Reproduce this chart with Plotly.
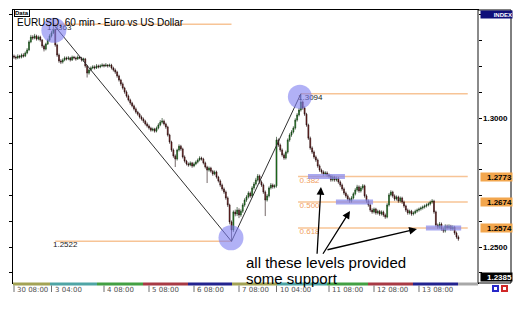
import plotly.graph_objects as go

# ---------------- data ----------------
title_text = "EURUSD, 60 min - Euro vs US Dollar"
first_open = 1.3240
closes = [
 1.3236,1.3233,1.3240,1.3236,1.3244,1.3240,1.3252,1.3264,1.3295,1.3314,
 1.3310,1.3318,1.3306,1.3314,1.3302,1.3279,1.3267,1.3287,1.3302,1.3318,
 1.3330,1.3341,1.3283,1.3244,1.3221,1.3217,1.3225,1.3233,1.3229,1.3233,
 1.3225,1.3236,1.3233,1.3229,1.3236,1.3233,1.3225,1.3229,1.3202,1.3174,
 1.3186,1.3194,1.3198,1.3194,1.3202,1.3198,1.3202,1.3205,1.3202,1.3205,
 1.3202,1.3205,1.3194,1.3186,1.3178,1.3163,1.3147,1.3132,1.3116,1.3101,
 1.3085,1.3070,1.3058,1.3047,1.3035,1.3023,1.3015,1.3004,1.2996,1.2988,
 1.2977,1.2969,1.2961,1.2953,1.2957,1.2949,1.2961,1.2973,1.2984,1.2988,
 1.2977,1.2965,1.2934,1.2907,1.2876,1.2853,1.2841,1.2876,1.2891,1.2880,
 1.2849,1.2833,1.2822,1.2818,1.2826,1.2814,1.2822,1.2829,1.2837,1.2845,
 1.2841,1.2826,1.2810,1.2798,1.2806,1.2794,1.2783,1.2791,1.2771,1.2756,
 1.2740,1.2725,1.2713,1.2690,1.2663,1.2597,1.2566,1.2636,1.2628,1.2643,
 1.2624,1.2639,1.2663,1.2682,1.2694,1.2709,1.2698,1.2729,1.2744,1.2760,
 1.2775,1.2752,1.2740,1.2713,1.2682,1.2698,1.2729,1.2740,1.2733,1.2737,
 1.2915,1.2895,1.2876,1.2857,1.2845,1.2868,1.2915,1.2934,1.2946,1.2961,
 1.2992,1.3012,1.3031,1.3062,1.3039,1.3015,1.2973,1.2922,1.2884,1.2868,
 1.2849,1.2837,1.2814,1.2798,1.2791,1.2783,1.2787,1.2779,1.2775,1.2760,
 1.2771,1.2760,1.2767,1.2752,1.2740,1.2725,1.2709,1.2698,1.2686,1.2678,
 1.2690,1.2706,1.2721,1.2733,1.2717,1.2729,1.2737,1.2698,1.2678,1.2663,
 1.2643,1.2636,1.2647,1.2632,1.2639,1.2628,1.2636,1.2624,1.2616,1.2663,
 1.2702,1.2713,1.2698,1.2686,1.2694,1.2678,1.2690,1.2674,1.2659,1.2643,
 1.2632,1.2639,1.2628,1.2632,1.2639,1.2643,1.2647,1.2651,1.2655,1.2659,
 1.2663,1.2667,1.2674,1.2678,1.2636,1.2585,1.2577,1.2589,1.2570,1.2562,
 1.2581,1.2574,1.2581,1.2570,1.2577,1.2554,1.2539,1.2531]
highs = [
 1.3246,1.3242,1.3247,1.3245,1.3250,1.3251,1.3258,1.3271,1.3301,1.3322,
 1.3321,1.3326,1.3323,1.3320,1.3319,1.3306,1.3284,1.3292,1.3308,1.3325,
 1.3338,1.3363,1.3346,1.3288,1.3250,1.3228,1.3231,1.3239,1.3238,1.3240,
 1.3237,1.3242,1.3241,1.3238,1.3243,1.3240,1.3237,1.3234,1.3233,1.3206,
 1.3192,1.3200,1.3205,1.3204,1.3209,1.3207,1.3208,1.3212,1.3210,1.3213,
 1.3209,1.3211,1.3210,1.3199,1.3192,1.3183,1.3168,1.3152,1.3138,1.3121,
 1.3107,1.3091,1.3075,1.3063,1.3052,1.3041,1.3028,1.3020,1.3010,1.3002,
 1.2993,1.2983,1.2975,1.2966,1.2963,1.2962,1.2967,1.2980,1.2992,1.3000,
 1.2994,1.2982,1.2970,1.2939,1.2912,1.2882,1.2859,1.2881,1.2898,1.2896,
 1.2885,1.2855,1.2838,1.2828,1.2832,1.2830,1.2828,1.2835,1.2843,1.2852,
 1.2850,1.2846,1.2831,1.2815,1.2812,1.2811,1.2799,1.2797,1.2796,1.2776,
 1.2762,1.2746,1.2731,1.2719,1.2696,1.2668,1.2603,1.2642,1.2645,1.2655,
 1.2650,1.2646,1.2670,1.2689,1.2701,1.2716,1.2715,1.2736,1.2752,1.2768,
 1.2783,1.2781,1.2758,1.2746,1.2719,1.2705,1.2735,1.2748,1.2746,1.2743,
 1.2927,1.2921,1.2901,1.2882,1.2863,1.2874,1.2921,1.2941,1.2953,1.2968,
 1.2999,1.3019,1.3039,1.3094,1.3068,1.3045,1.3020,1.2978,1.2928,1.2890,
 1.2874,1.2855,1.2843,1.2820,1.2804,1.2797,1.2794,1.2793,1.2785,1.2781,
 1.2778,1.2776,1.2773,1.2772,1.2758,1.2746,1.2731,1.2715,1.2704,1.2692,
 1.2697,1.2712,1.2728,1.2741,1.2739,1.2736,1.2744,1.2742,1.2704,1.2684,
 1.2669,1.2650,1.2653,1.2652,1.2645,1.2644,1.2642,1.2641,1.2630,1.2670,
 1.2709,1.2720,1.2718,1.2704,1.2700,1.2699,1.2696,1.2695,1.2680,1.2664,
 1.2649,1.2645,1.2644,1.2638,1.2645,1.2649,1.2653,1.2657,1.2661,1.2665,
 1.2669,1.2673,1.2680,1.2686,1.2683,1.2641,1.2591,1.2597,1.2595,1.2576,
 1.2588,1.2587,1.2588,1.2586,1.2584,1.2582,1.2560,1.2545]
lows = [
 1.3229,1.3226,1.3228,1.3230,1.3231,1.3234,1.3236,1.3247,1.3259,1.3290,
 1.3303,1.3305,1.3300,1.3301,1.3296,1.3272,1.3258,1.3262,1.3283,1.3297,
 1.3312,1.3325,1.3276,1.3237,1.3214,1.3209,1.3211,1.3220,1.3223,1.3224,
 1.3219,1.3221,1.3227,1.3222,1.3225,1.3228,1.3219,1.3218,1.3195,1.3157,
 1.3168,1.3181,1.3189,1.3188,1.3190,1.3192,1.3193,1.3197,1.3196,1.3198,
 1.3195,1.3197,1.3188,1.3180,1.3171,1.3156,1.3141,1.3125,1.3110,1.3094,
 1.3079,1.3064,1.3051,1.3041,1.3029,1.3017,1.3009,1.2998,1.2990,1.2981,
 1.2971,1.2963,1.2955,1.2947,1.2948,1.2943,1.2944,1.2956,1.2968,1.2978,
 1.2971,1.2958,1.2928,1.2900,1.2869,1.2846,1.2810,1.2835,1.2870,1.2873,
 1.2843,1.2827,1.2816,1.2811,1.2813,1.2807,1.2809,1.2817,1.2824,1.2832,
 1.2835,1.2820,1.2804,1.2748,1.2792,1.2788,1.2776,1.2778,1.2765,1.2750,
 1.2733,1.2718,1.2706,1.2683,1.2655,1.2588,1.2522,1.2558,1.2619,1.2620,
 1.2612,1.2617,1.2632,1.2656,1.2675,1.2688,1.2691,1.2692,1.2722,1.2738,
 1.2754,1.2745,1.2733,1.2706,1.2620,1.2676,1.2692,1.2723,1.2726,1.2727,
 1.2730,1.2888,1.2869,1.2850,1.2838,1.2839,1.2862,1.2908,1.2927,1.2940,
 1.2955,1.2986,1.3006,1.3025,1.3032,1.3008,1.2966,1.2915,1.2877,1.2861,
 1.2842,1.2830,1.2807,1.2791,1.2784,1.2776,1.2777,1.2772,1.2768,1.2753,
 1.2754,1.2753,1.2754,1.2745,1.2733,1.2718,1.2702,1.2691,1.2679,1.2671,
 1.2672,1.2684,1.2700,1.2715,1.2710,1.2711,1.2722,1.2691,1.2671,1.2656,
 1.2636,1.2629,1.2630,1.2625,1.2626,1.2621,1.2622,1.2617,1.2609,1.2611,
 1.2657,1.2696,1.2691,1.2679,1.2680,1.2671,1.2672,1.2667,1.2652,1.2636,
 1.2625,1.2626,1.2621,1.2622,1.2627,1.2633,1.2637,1.2641,1.2645,1.2649,
 1.2653,1.2657,1.2661,1.2668,1.2629,1.2578,1.2570,1.2571,1.2563,1.2555,
 1.2556,1.2567,1.2568,1.2563,1.2564,1.2547,1.2532,1.2524]

time_tick_bars = [0, 20, 48, 72, 96, 120, 140, 168, 192, 216]
time_tick_text = ["30 08:00", "3 04:00", "4 08:00", "5 08:00", "6 08:00",
                  "7 08:00", "10 04:00", "11 08:00", "12 08:00", "13 08:00"]

swing_high = 1.3363
swing_low = 1.2522
swing_high2 = 1.3094
swing_high_bar, swing_low_bar, swing_high2_bar = 21, 116, 153
fib_ratios = ["0.382", "0.500", "0.618"]
fib_levels = [1.2773, 1.2674, 1.2574]
scale_labels = [1.3000, 1.2500]
bid_price = 1.2385
note_lines = ["all these levels provided", "some support"]

assert len(closes) == len(highs) == len(lows)
bars = list(range(len(closes)))
opens = [first_open] + closes[:-1]

# ---------------- layout helpers (pixels -> paper) ----------------
W, H = 527, 312
def px(x): return x / W
def py(y): return 1 - y / H

X0, X1, Y0, Y1 = 13, 478, 10, 283
x_range = [-0.533, 247.47]
y_range = [1.23605, 1.34186]

FONT = "Liberation Sans, Arial, sans-serif"
SMALL = "DejaVu Sans, Verdana, sans-serif"
ORANGE_LINE = "rgb(247,196,150)"
ORANGE_TXT = "rgb(240,160,96)"
BLUE_FILL = "rgba(125,125,240,0.6)"

fig = go.Figure()
fig.add_trace(go.Candlestick(
    x=bars, open=opens, high=highs, low=lows, close=closes,
    increasing=dict(line=dict(color="#0a2a0a", width=0.6), fillcolor="#1fa51f"),
    decreasing=dict(line=dict(color="#1a0505", width=0.6), fillcolor="#901818"),
    whiskerwidth=0, hoverinfo="skip", showlegend=False))

# price text labels near the swings and the fib ratio labels (drawn below circles)
fig.add_trace(go.Scatter(
    x=[17.6, 20.8, 151.5], y=[swing_high, swing_low, swing_high2],
    text=[f"{swing_high:.4f}", f"{swing_low:.4f}", f"{swing_high2:.4f}"],
    mode="text", textposition="bottom right",
    textfont=dict(family=FONT, size=8, color="#202020"),
    hoverinfo="skip", showlegend=False))
fig.add_trace(go.Scatter(
    x=[152.3] * 3, y=fib_levels, text=fib_ratios,
    mode="text", textposition="bottom right",
    textfont=dict(family=FONT, size=8, color=ORANGE_TXT),
    hoverinfo="skip", showlegend=False))

shapes = []
# orange level lines
shapes.append(dict(type="line", xref="x", yref="y", x0=swing_high_bar, x1=swing_low_bar,
                   y0=swing_high, y1=swing_high, line=dict(color=ORANGE_LINE, width=1.5), layer="below"))
shapes.append(dict(type="line", xref="x", yref="y", x0=swing_high_bar + 1, x1=swing_low_bar,
                   y0=swing_low, y1=swing_low, line=dict(color=ORANGE_LINE, width=1.5), layer="below"))
shapes.append(dict(type="line", xref="x", yref="y", x0=swing_high2_bar, x1=242,
                   y0=swing_high2, y1=swing_high2, line=dict(color=ORANGE_LINE, width=1.5), layer="below"))
for lv in fib_levels:
    shapes.append(dict(type="line", xref="x", yref="y", x0=151.5, x1=242,
                       y0=lv, y1=lv, line=dict(color=ORANGE_LINE, width=1.5), layer="below"))

# trend lines
shapes.append(dict(type="line", xref="x", yref="y", x0=swing_high_bar, y0=swing_high,
                   x1=swing_low_bar, y1=swing_low, line=dict(color="#303030", width=1), layer="above"))
shapes.append(dict(type="line", xref="x", yref="y", x0=swing_low_bar, y0=swing_low,
                   x1=swing_high2_bar, y1=swing_high2, line=dict(color="#303030", width=1), layer="above"))

# circles
for bx, by, (a, b, c, d) in [(swing_high_bar, swing_high, (-12, 13, -18.5, 6.5)),
                             (swing_high2_bar, swing_high2, (-13, 11, -15, 9)),
                             (swing_low_bar, swing_low, (-13, 12, -9, 16))]:
    shapes.append(dict(type="circle", xref="x", yref="y", xsizemode="pixel", ysizemode="pixel",
                       xanchor=bx, yanchor=by, x0=a, x1=b, y0=c, y1=d,
                       fillcolor=BLUE_FILL, line=dict(width=0), layer="above"))

# lavender support highlights
for (b0, b1), lv in zip([(156.8, 176.5), (171.7, 191.5), (219.7, 238.5)], fib_levels):
    shapes.append(dict(type="rect", xref="x", yref="y", ysizemode="pixel", yanchor=lv,
                       x0=b0, x1=b1, y0=-2.5, y1=2.5,
                       fillcolor="rgba(140,140,235,0.75)", line=dict(width=0), layer="above"))

# colored time strip
strip = [(13, 50, "#a3a355"), (50, 97, "#4fa5a5"), (97, 143, "#43a043"), (143, 188, "#a83a45"),
         (188, 232, "#23238f"), (232, 277, "#a3a355"), (277, 327, "#4fa5a5"), (327, 368, "#43a043"),
         (368, 413, "#a83a45"), (413, 458, "#23238f"), (458, 478, "#a8a8a8")]
for a, b, c in strip:
    shapes.append(dict(type="rect", xref="paper", yref="paper", x0=px(a), x1=px(b),
                       y0=py(285.5), y1=py(282.5), fillcolor=c, line=dict(width=0), layer="above"))

# time tick marks
for tb in time_tick_bars:
    shapes.append(dict(type="line", xref="x", yref="paper", x0=tb, x1=tb,
                       y0=py(285.5), y1=py(292), line=dict(color="#707070", width=1)))

# right price panel
shapes.append(dict(type="line", xref="paper", yref="paper", x0=px(478), x1=px(478),
                   y0=py(Y0), y1=py(Y1), line=dict(color="#8a8a8a", width=2), layer="above"))
shapes.append(dict(type="line", xref="paper", yref="paper", x0=px(511), x1=px(511),
                   y0=py(Y0), y1=py(Y1), line=dict(color="#000000", width=1)))
shapes.append(dict(type="line", xref="paper", yref="paper", x0=px(478), x1=px(511),
                   y0=py(Y0), y1=py(Y0), line=dict(color="#000000", width=1)))
shapes.append(dict(type="line", xref="paper", yref="paper", x0=px(478), x1=px(511),
                   y0=py(Y1), y1=py(Y1), line=dict(color="#000000", width=1)))
# small icons
for a, c in [(492, "#2828c8"), (501, "#d02828")]:
    shapes.append(dict(type="rect", xref="paper", yref="paper", x0=px(a), x1=px(a + 7),
                       y0=py(292), y1=py(285), fillcolor=c, line=dict(width=0)))
    shapes.append(dict(type="rect", xref="paper", yref="paper", x0=px(a + 2), x1=px(a + 5),
                       y0=py(290), y1=py(287), fillcolor="white", line=dict(width=0)))

annotations = []
annotations.append(dict(text=title_text, xref="paper", yref="paper", x=px(15), y=py(22.5),
                        xanchor="left", yanchor="middle", showarrow=False,
                        font=dict(family=FONT, size=10, color="#000000")))
annotations.append(dict(text="<b>Data</b>", xref="paper", yref="paper", x=px(14), y=py(13.5),
                        xanchor="left", yanchor="middle", showarrow=False, borderpad=0,
                        bordercolor="#000000", borderwidth=1,
                        font=dict(family=FONT, size=6, color="#000000")))
annotations.append(dict(text="<b>INDEX</b>", xref="paper", yref="paper", x=px(479.5), y=py(10.5),
                        xanchor="left", yanchor="top", showarrow=False, width=31, height=7,
                        align="right", bgcolor="#10107a", borderpad=0,
                        font=dict(family=FONT, size=6, color="#ffffff")))
for lv in fib_levels:
    annotations.append(dict(text=f"<b>{lv:.4f}</b>", xref="paper", yref="y", x=px(479.5), y=lv,
                            xanchor="left", yanchor="middle", showarrow=False, width=31, height=8,
                            align="right", bgcolor="#f2a64e", borderpad=0,
                            font=dict(family=FONT, size=8, color="#000000")))
for sv in scale_labels:
    annotations.append(dict(text=f"<b>{sv:.4f}</b>", xref="paper", yref="y", x=px(510), y=sv,
                            xanchor="right", yanchor="middle", showarrow=False,
                            font=dict(family=FONT, size=8, color="#000000")))
annotations.append(dict(text=f"<b>{bid_price:.4f}</b>", xref="paper", yref="y", x=px(479.5), y=bid_price,
                        xanchor="left", yanchor="middle", showarrow=False, width=31, height=8,
                        align="right", bgcolor="#000000", borderpad=0,
                        font=dict(family=FONT, size=8, color="#ffffff")))
for tb, tt in zip(time_tick_bars, time_tick_text):
    annotations.append(dict(text=tt, xref="x", yref="paper", x=tb, y=py(289.5),
                            xanchor="left", yanchor="middle", xshift=1, showarrow=False,
                            font=dict(family=SMALL, size=7, color="#505050")))
# note + arrows
for k, line in enumerate(note_lines):
    annotations.append(dict(text=line, xref="paper", yref="paper", x=px(244), y=py(262 + 16.5 * k),
                            xanchor="left", yanchor="middle", align="left", showarrow=False,
                            font=dict(family=FONT, size=15, color="#000000")))
for (hx, hy), (tx, ty) in [((163.7, 1.2733), (161.6, 1.2468)),
                           ((179.2, 1.2640), (164.3, 1.2468)),
                           ((214.9, 1.2570), (166.4, 1.2488))]:
    annotations.append(dict(text="", xref="x", yref="y", x=hx, y=hy, axref="x", ayref="y",
                            ax=tx, ay=ty, showarrow=True, arrowhead=2, arrowsize=1.2,
                            arrowwidth=1.3, arrowcolor="#000000"))

fig.update_layout(
    width=W, height=H, margin=dict(l=0, r=0, t=0, b=0),
    paper_bgcolor="white", plot_bgcolor="white", showlegend=False,
    hovermode=False, shapes=shapes, annotations=annotations,
    xaxis=dict(domain=[px(X0), px(X1)], range=x_range, showgrid=False, zeroline=False,
               showticklabels=False, ticks="", showline=True, linecolor="#000000",
               linewidth=1, mirror=True, rangeslider=dict(visible=False), fixedrange=True),
    yaxis=dict(domain=[py(Y1), py(Y0)], range=y_range, showgrid=False, zeroline=False,
               showticklabels=False, ticks="outside", ticklen=3, tickcolor="#000000",
               tick0=1.30, dtick=0.01, showline=True, linecolor="#000000", linewidth=1,
               mirror="ticks", fixedrange=True),
)

fig.write_html("out.html", config={"displayModeBar": False})
